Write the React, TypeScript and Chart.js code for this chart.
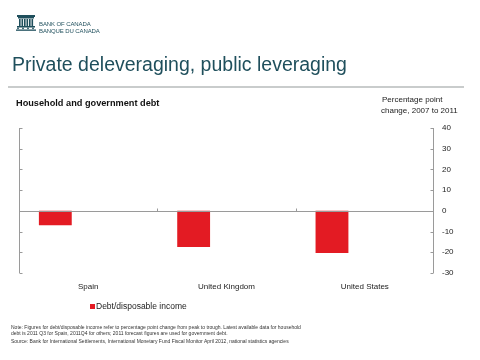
import React, { useEffect, useRef } from "react";
import { Chart, registerables } from "chart.js";

Chart.register(...registerables);

const categories = ["Spain", "United Kingdom", "United States"];
const debtDisposable = [-7, -17.5, -20.3];
const governmentDebt = [null, null, null];
const seriesNames = ["Debt/disposable income", "Government debt"];
const yMin = -30;
const yMax = 40;
const yStep = 10;

const FONT = "'Liberation Sans', Arial, sans-serif";
const TEAL = "#1f4f5c";
const BAR_RED = "#e31b23";
const AXIS_GREY = "#9a9a9a";

const axisPlugin = {
  id: "axisDecor",
  afterDatasetsDraw(chart: any) {
    const { ctx, chartArea, scales } = chart;
    const x = scales.x;
    const y = scales.y;
    const left = Math.round(chartArea.left) + 0.5;
    const right = Math.round(chartArea.right) - 0.5;
    const top = Math.round(chartArea.top);
    const bottom = Math.round(chartArea.bottom);
    const y0 = Math.round(y.getPixelForValue(0)) + 0.5;
    ctx.save();
    ctx.strokeStyle = AXIS_GREY;
    ctx.lineWidth = 1;
    ctx.beginPath();
    // zero line
    ctx.moveTo(chartArea.left, y0);
    ctx.lineTo(chartArea.right, y0);
    // left and right axis lines
    ctx.moveTo(left, top);
    ctx.lineTo(left, bottom);
    ctx.moveTo(right, top);
    ctx.lineTo(right, bottom);
    // inward tick marks
    y.ticks.forEach((t: any) => {
      const py = Math.round(y.getPixelForValue(t.value)) + 0.5;
      ctx.moveTo(left, py);
      ctx.lineTo(left + 3, py);
      ctx.moveTo(right, py);
      ctx.lineTo(right - 3, py);
    });
    // category boundary ticks on zero line
    for (let i = 0; i < categories.length - 1; i++) {
      const bx = Math.round((x.getPixelForValue(i) + x.getPixelForValue(i + 1)) / 2) + 0.5;
      ctx.moveTo(bx, y0);
      ctx.lineTo(bx, y0 - 3);
    }
    ctx.stroke();
    ctx.restore();
  },
};

function BarChart() {
  const ref = useRef<HTMLCanvasElement | null>(null);
  useEffect(() => {
    if (!ref.current) return;
    const chart = new Chart(ref.current, {
      type: "bar",
      data: {
        labels: categories,
        datasets: [
          {
            label: seriesNames[0],
            data: debtDisposable,
            backgroundColor: BAR_RED,
            borderWidth: 0,
          },
          {
            label: seriesNames[1],
            data: governmentDebt as any,
            backgroundColor: "#1f4f8c",
            borderWidth: 0,
          },
        ],
      },
      options: {
        responsive: false,
        animation: false,
        devicePixelRatio: 1,
        datasets: {
          bar: { categoryPercentage: 0.95, barPercentage: 0.5 },
        },
        layout: { padding: { left: 19, top: 128, right: 0, bottom: 62 } },
        plugins: {
          legend: { display: false },
          tooltip: { enabled: false },
          title: { display: false },
        },
        scales: {
          x: {
            grid: { display: false, drawTicks: false },
            border: { display: false },
            ticks: {
              color: "#222",
              font: { size: 8, family: FONT },
              padding: 9,
              maxRotation: 0,
            },
            afterFit: (s: any) => {
              s.height = 25;
            },
          },
          y: {
            position: "right",
            min: yMin,
            max: yMax,
            grid: { display: false, drawTicks: false },
            border: { display: false },
            ticks: {
              stepSize: yStep,
              color: "#222",
              font: { size: 8, family: FONT },
              padding: 8,
            },
            afterFit: (s: any) => {
              s.width = 46;
            },
          },
        },
      },
      plugins: [axisPlugin],
    });
    return () => chart.destroy();
  }, []);
  return (
    <canvas
      ref={ref}
      width={480}
      height={360}
      style={{ position: "absolute", left: 0, top: 0, width: 480, height: 360 }}
    />
  );
}

function Logo() {
  return (
    <svg width="20" height="17" viewBox="0 0 20 17" style={{ position: "absolute", left: 16, top: 15 }}>
      <rect x="1" y="0" width="18" height="2" fill={TEAL} />
      <rect x="2" y="2" width="16" height="1.5" fill={TEAL} />
      {[3, 5.5, 8, 10.5, 13, 15.5].map((cx, i) => (
        <rect key={i} x={cx} y="4" width="1.6" height="7" fill={TEAL} />
      ))}
      <rect x="1" y="11" width="18" height="1.5" fill={TEAL} />
      <rect x="0" y="14.5" width="20" height="1.3" fill={TEAL} />
      {[2, 7, 12, 17].map((cx, i) => (
        <circle key={i} cx={cx} cy="13.3" r="0.9" fill={TEAL} />
      ))}
    </svg>
  );
}

const abs = (l: number, t: number, extra: any = {}) => ({
  position: "absolute" as const,
  left: l,
  top: t,
  whiteSpace: "nowrap" as const,
  lineHeight: 1,
  ...extra,
});

export default function App() {
  return (
    <div
      style={{
        position: "fixed",
        left: 0,
        top: 0,
        width: 480,
        height: 360,
        background: "#fff",
        overflow: "hidden",
        fontFamily: FONT,
      }}
    >
      <BarChart />
      <Logo />
      <div style={abs(39, 21, { fontSize: 6, color: TEAL, letterSpacing: -0.1 })}>BANK OF CANADA</div>
      <div style={abs(39, 28, { fontSize: 6, color: TEAL, letterSpacing: -0.1 })}>BANQUE DU CANADA</div>
      <div style={abs(12, 54.5, { fontSize: 19.5, color: TEAL })}>
        Private deleveraging, public leveraging
      </div>
      <div style={{ position: "absolute", left: 8, top: 86, width: 456, height: 2, background: "#c9cccc" }} />
      <div style={abs(16, 99, { fontSize: 9.2, fontWeight: "bold", color: "#111" })}>
        Household and government debt
      </div>
      <div style={abs(382, 96, { fontSize: 8, color: "#222" })}>Percentage point</div>
      <div style={abs(381, 107, { fontSize: 8, color: "#222" })}>change, 2007 to 2011</div>
      <div style={{ position: "absolute", left: 90, top: 304, width: 5, height: 5, background: BAR_RED }} />
      <div style={abs(96, 302, { fontSize: 8.5, color: "#222" })}>{seriesNames[0]}</div>
      <div style={abs(11, 324.5, { fontSize: 5, color: "#333" })}>
        Note: Figures for debt/disposable income refer to percentage point change from peak to trough. Latest available data for household
      </div>
      <div style={abs(11, 331, { fontSize: 5, color: "#333" })}>
        debt is 2011 Q3 for Spain, 2011Q4 for others; 2011 forecast figures are used for government debt.
      </div>
      <div style={abs(11, 338.5, { fontSize: 5, color: "#333" })}>
        Source: Bank for International Settlements, International Monetary Fund Fiscal Monitor April 2012, national statistics agencies
      </div>
    </div>
  );
}
